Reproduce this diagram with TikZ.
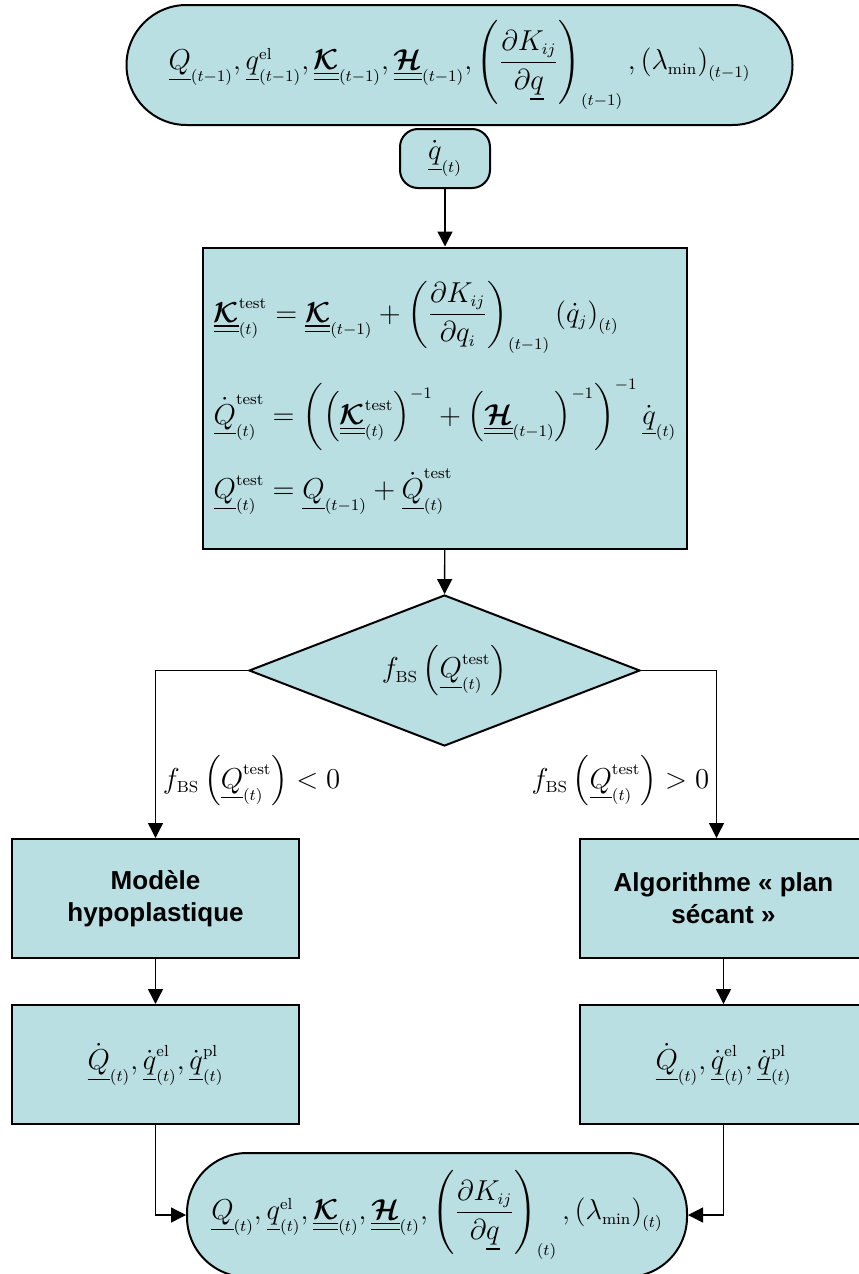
\documentclass[tikz,border=0pt]{standalone}
\usepackage{amsmath,amssymb}
\usepackage{fontspec}
\newfontfamily\arialfont{Liberation Sans}
\usepackage{tikz}
\usetikzlibrary{shapes.geometric,arrows.meta}

\DeclareMathSizes{14}{14}{8}{6}
\definecolor{boxfill}{RGB}{185,223,227}
\newcommand{\vect}[1]{\underline{#1}}
\newcommand{\tens}[1]{\underline{\underline{\boldsymbol{\mathcal{#1}}}}}

\begin{document}
\begin{tikzpicture}[
x=0.5pt, y=-0.5pt,
mathfont/.style={font=\fontsize{14}{17}\selectfont},
terminal/.style={draw, line width=1pt, fill=boxfill, rounded corners=30pt, mathfont, inner sep=0pt},
smallterm/.style={draw, line width=1pt, fill=boxfill, rounded corners=9pt, mathfont, minimum width=45pt, minimum height=29.5pt, inner sep=0pt},
box/.style={draw, line width=1pt, fill=boxfill, minimum width=143.5pt, minimum height=59.5pt, align=center, inner sep=0pt},
textbox/.style={box, font=\arialfont\fontsize{13}{16}\selectfont\bfseries},
mathbox/.style={box, mathfont},
decision/.style={diamond, draw, line width=1pt, fill=boxfill, aspect=2.59, minimum width=195.5pt, minimum height=75.5pt, inner sep=0pt, mathfont},
arrow/.style={-{Triangle[length=7.5pt,width=7.5pt]}, line width=0.7pt}
]
\useasboundingbox (0,0) rectangle (858,1274);

\node[terminal, minimum width=333pt, minimum height=60pt] (start) at (459.5,65)
  {$\vect{Q}_{(t-1)},\vect{q}^{\mathrm{el}}_{(t-1)},\tens{K}_{(t-1)},\tens{H}_{(t-1)},\left(\dfrac{\partial K_{ij}}{\partial\vect{q}}\right)_{(t-1)},\left(\lambda_{\mathrm{min}}\right)_{(t-1)}$};
\node[smallterm] (qdot) at (445,158.5) {$\dot{\vect{q}}_{(t)}$};
\node[draw, line width=1pt, fill=boxfill, minimum width=242pt, minimum height=150.5pt, align=left, mathfont, inner sep=0pt] (update) at (445,398)
  {$\tens{K}^{\mathrm{test}}_{(t)} = \tens{K}_{(t-1)} + \left(\dfrac{\partial K_{ij}}{\partial q_i}\right)_{(t-1)} \left(\dot{q}_j\right)_{(t)}$\\[12pt]
   $\dot{\vect{Q}}^{\mathrm{test}}_{(t)} = \left(\left(\tens{K}^{\mathrm{test}}_{(t)}\right)^{-1} + \left(\tens{H}_{(t-1)}\right)^{-1}\right)^{-1} \dot{\vect{q}}_{(t)}$\\[8pt]
   $\vect{Q}^{\mathrm{test}}_{(t)} = \vect{Q}_{(t-1)} + \dot{\vect{Q}}^{\mathrm{test}}_{(t)}$};
\node[decision] (check) at (444.5,670.5) {$f_{\mathrm{BS}}\left(\vect{Q}^{\mathrm{test}}_{(t)}\right)$};
\node[textbox] (hypo) at (155.5,898.5) {Modèle\\hypoplastique};
\node[textbox] (secant) at (723.5,898.5) {Algorithme « plan\\sécant »};
\node[mathbox] (ratesL) at (155.5,1064.5) {\raisebox{5pt}{$\dot{\vect{Q}}_{(t)},\dot{\vect{q}}^{\mathrm{el}}_{(t)},\dot{\vect{q}}^{\mathrm{pl}}_{(t)}$}};
\node[mathbox] (ratesR) at (723.5,1064.5) {\raisebox{5pt}{$\dot{\vect{Q}}_{(t)},\dot{\vect{q}}^{\mathrm{el}}_{(t)},\dot{\vect{q}}^{\mathrm{pl}}_{(t)}$}};
\node[terminal, minimum width=250pt, minimum height=62pt] (finish) at (437,1215)
  {$\vect{Q}_{(t)},\vect{q}^{\mathrm{el}}_{(t)},\tens{K}_{(t)},\tens{H}_{(t)},\left(\dfrac{\partial K_{ij}}{\partial\vect{q}}\right)_{(t)},\left(\lambda_{\mathrm{min}}\right)_{(t)}$};

\draw[arrow] (qdot) -- (update);
\draw[arrow] (update) -- (check);
\draw[arrow] (check.west) -| node[pos=0.83, right, mathfont] {$f_{\mathrm{BS}}\left(\vect{Q}^{\mathrm{test}}_{(t)}\right) < 0$} (hypo.north);
\draw[arrow] (check.east) -| node[pos=0.83, left, mathfont] {$f_{\mathrm{BS}}\left(\vect{Q}^{\mathrm{test}}_{(t)}\right) > 0$} ([xshift=-3.5pt]secant.north);
\draw[arrow] (hypo) -- (ratesL);
\draw[arrow] (secant) -- (ratesR);
\draw[arrow] (ratesL.south) |- (finish.west);
\draw[arrow] (ratesR.south) |- (finish.east);
\end{tikzpicture}
\end{document}
